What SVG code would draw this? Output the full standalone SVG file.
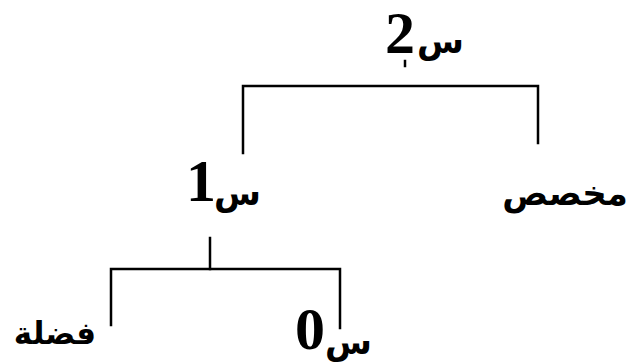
<svg xmlns="http://www.w3.org/2000/svg" width="627" height="364" viewBox="0 0 627 364">
<style>
.num{font-family:"Liberation Serif","Times New Roman",serif;font-weight:bold;font-size:60px}
.ar{font-family:"DejaVu Sans",sans-serif;font-weight:bold;fill:#000}
.ln{stroke:#000;stroke-width:2.5;fill:none;stroke-linecap:square}
</style>
<rect width="627" height="364" fill="#fff"/>
<g id="connectors">
<path class="ln" d="M243,153 V86 H538 V143"/>
<path class="ln" d="M405,61 V66" stroke-width="2"/>
<path class="ln" d="M210,238 V269"/>
<path class="ln" d="M111,325 V269 H340 V328"/>
</g>
<g id="node-s2">
<text class="ar" font-size="34"><tspan class="num" x="385" y="53">2</tspan><tspan x="417" y="53">س</tspan></text>
</g>
<g id="node-s1">
<text class="ar" font-size="34"><tspan class="num" x="186" y="201">1</tspan><tspan x="214" y="205">س</tspan></text>
</g>
<g id="node-mukhassas">
<text class="ar" x="565" y="205" font-size="34" text-anchor="middle">مخصص</text>
</g>
<g id="node-s0">
<text class="ar" font-size="34"><tspan class="num" x="295" y="349">0</tspan><tspan x="325" y="354">س</tspan></text>
</g>
<g id="node-fadla">
<text class="ar" x="55" y="344" font-size="31" text-anchor="middle">فضلة</text>
</g>
</svg>
